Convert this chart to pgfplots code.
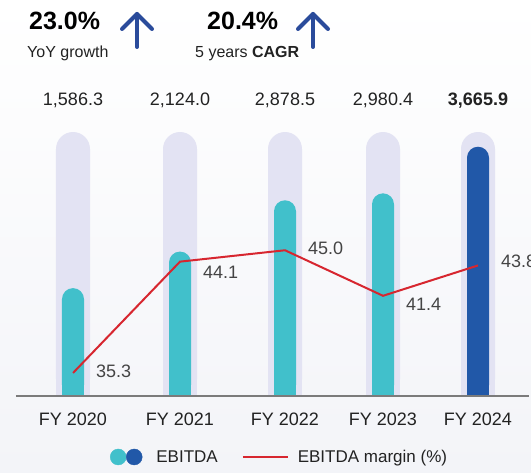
\documentclass[border=0pt]{standalone}
\usepackage{pgfplots}
\pgfplotsset{compat=1.18}
\usepackage{pgfplotstable}
\usepackage{fontspec}
\setmainfont{Liberation Sans}
\definecolor{tealc}{HTML}{41C0CB}
\definecolor{bluec}{HTML}{2158A8}
\definecolor{track}{HTML}{E3E3F3}
\definecolor{redc}{HTML}{D7262F}
\definecolor{arrowc}{HTML}{2A4B9B}
\definecolor{basegray}{HTML}{7B7B7B}
\definecolor{textc}{HTML}{222222}
\definecolor{labc}{HTML}{444444}
\definecolor{bgbot}{HTML}{F3F4F8}

\pgfplotstableread{
x h lab
73 3882 {1,586.3}
180 3882 {2,124.0}
285 3882 {2,878.5}
383 3882 {2,980.4}
478 3882 {\textbf{3,665.9}}
}\tracks
\pgfplotstableread{
x v
73 1586.3
180 2124.0
285 2878.5
383 2980.4
}\ebitda
\pgfplotstableread{
x v
478 3665.9
}\ebitdalast
\pgfplotstableread{
x m dy
73 35.3 2
180 44.1 -11
285 45.0 2
383 41.4 -9
478 43.8 4
}\margin

\begin{document}
\begin{tikzpicture}
\path[use as bounding box] (0pt,0pt) rectangle (531pt,473pt);
\shade[top color=white, bottom color=bgbot] (0pt,0pt) rectangle (531pt,473pt);

% header
\node[anchor=base west, inner sep=0pt, font=\bfseries\fontsize{25}{30}\selectfont, text=black] at (29pt,443pt) {23.0\%};
\node[anchor=base west, inner sep=0pt, font=\fontsize{16}{19}\selectfont, text=textc] at (27pt,415pt) {YoY growth};
\node[anchor=base west, inner sep=0pt, font=\bfseries\fontsize{25}{30}\selectfont, text=black] at (207pt,443pt) {20.4\%};
\node[anchor=base west, inner sep=0pt, font=\fontsize{16}{19}\selectfont, text=textc] at (195pt,415pt) {5 years \textbf{CAGR}};
\draw[arrowc, line width=4pt, line cap=round, line join=round] (137pt,426pt) -- (137pt,459pt);
\draw[arrowc, line width=4pt, line cap=round, line join=round] (122pt,444pt) -- (137pt,459pt) -- (152pt,444pt);
\draw[arrowc, line width=4pt, line cap=round, line join=round] (313pt,426pt) -- (313pt,459pt);
\draw[arrowc, line width=4pt, line cap=round, line join=round] (298pt,444pt) -- (313pt,459pt) -- (328pt,444pt);

\begin{axis}[at={(16pt,77pt)}, anchor=south west, scale only axis,
  width=513pt, height=316pt, xmin=16, xmax=529, ymin=0, ymax=4647,
  axis x line*=bottom, axis y line=none, ytick=\empty,
  axis line style={draw=basegray, line width=2pt},
  xtick={73,180,285,383,478},
  xticklabels={FY 2020,FY 2021,FY 2022,FY 2023,FY 2024},
  major tick length=0pt,
  xticklabel style={font=\fontsize{18}{21}\selectfont, text=textc, anchor=base, inner sep=0pt, yshift=-30pt},
  axis on top, clip=true]
\addplot[ybar, bar width=34pt, bar shift=0pt, fill=track, draw=none, rounded corners=17pt,
  nodes near coords, point meta=explicit symbolic,
  every node near coord/.append style={anchor=base, yshift=27pt, inner sep=0pt, font=\fontsize{18}{21}\selectfont, text=textc, rounded corners=0pt}]
  table[x=x, y=h, meta=lab] {\tracks};
\addplot[ycomb, line width=34pt, draw=track, yshift=-17pt, mark=none] table[x=x, y=h] {\tracks};
\addplot[ybar, bar width=22pt, bar shift=0pt, fill=tealc, draw=none, rounded corners=11pt] table[x=x, y=v] {\ebitda};
\addplot[ycomb, line width=22pt, draw=tealc, yshift=-11pt, mark=none] table[x=x, y=v] {\ebitda};
\addplot[ybar, bar width=22pt, bar shift=0pt, fill=bluec, draw=none, rounded corners=11pt] table[x=x, y=v] {\ebitdalast};
\addplot[ycomb, line width=22pt, draw=bluec, yshift=-11pt, mark=none] table[x=x, y=v] {\ebitdalast};
\end{axis}

\begin{axis}[at={(16pt,77pt)}, anchor=south west, scale only axis,
  width=513pt, height=316pt, xmin=16, xmax=529, ymin=33.48, ymax=58.46,
  hide axis, clip=false,
  legend columns=2,
  legend cell align=left,
  legend style={at={(0.177,-0.193)}, anchor=west, draw=none, fill=none,
    font=\fontsize{17}{20}\selectfont, text=textc,
    /tikz/every even column/.append style={column sep=22pt}}]
\addlegendimage{legend image code/.code={\fill[tealc] (0pt,0pt) circle (8pt); \fill[bluec] (16pt,0pt) circle (8pt); \path (36pt,0pt);}}
\addlegendentry{EBITDA}
\addplot[redc, line width=2pt, mark=none,
  legend image code/.code={\draw[redc, line width=2pt] (0pt,0pt) -- (45pt,0pt); \path (52pt,0pt);},
  nodes near coords, point meta=explicit symbolic,
  visualization depends on={\thisrow{dy} \as \dy},
  every node near coord/.append style={anchor=west, xshift=22pt, yshift=\dy pt, inner sep=0pt, font=\fontsize{18}{21}\selectfont, text=labc}]
  table[x=x, y=m, meta=m] {\margin};
\addlegendentry{EBITDA margin (\%)}
\end{axis}
\end{tikzpicture}
\end{document}
